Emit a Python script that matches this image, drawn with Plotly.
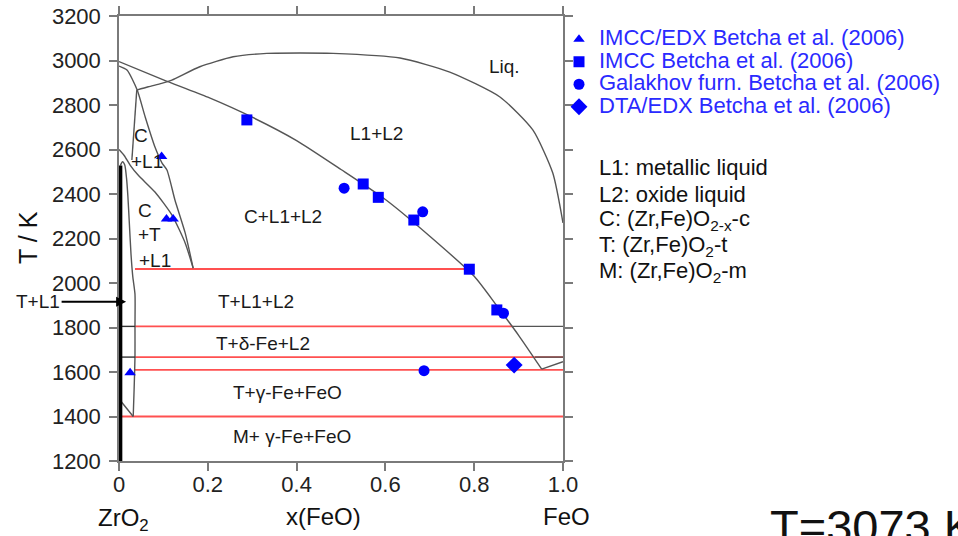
import plotly.graph_objects as go

# ---------------- data ----------------
x_ticks = [0, 0.2, 0.4, 0.6, 0.8, 1.0]
x_tick_labels = ["0", "0.2", "0.4", "0.6", "0.8", "1.0"]
y_ticks = [1200, 1400, 1600, 1800, 2000, 2200, 2400, 2600, 2800, 3000, 3200]

# L2 liquidus (C+L1+L2 / L1+L2 boundary)
liq_x = [0.0, 0.1, 0.2, 0.3, 0.4, 0.5, 0.6, 0.7, 0.8, 0.85, 0.9, 0.952]
liq_T = [2995, 2913, 2835, 2745, 2640, 2510, 2375, 2210, 2030, 1900, 1765, 1613]

# miscibility dome L1+L2 / Liq.
dome_x = [0.040, 0.066, 0.096, 0.119, 0.182, 0.257, 0.333, 0.408, 0.482, 0.633, 0.745, 0.858, 0.932, 0.977, 1.0]
dome_T = [2867, 2882, 2897, 2912, 2972, 3017, 3032, 3034, 3032, 3011, 2948, 2836, 2688, 2494, 2270]

# C liquidus curve (right boundary of C region)
cliq_x = [0.0, 0.018, 0.041, 0.059, 0.081, 0.097, 0.108, 0.126, 0.149, 0.167]
cliq_T = [2975, 2957, 2867, 2746, 2611, 2539, 2508, 2373, 2225, 2067]

# C left boundary (C / C+L1)
cleft_x = [0.040, 0.029]
cleft_T = [2867, 2553]

# C / C+T boundary
ct_x = [0.0, 0.012, 0.025, 0.043, 0.081, 0.119, 0.149, 0.167]
ct_T = [2600, 2572, 2530, 2485, 2409, 2306, 2180, 2067]

# T single-phase boundary
tb_x = [0.003, 0.008, 0.013, 0.017, 0.020, 0.023, 0.027, 0.031, 0.036, 0.036, 0.036, 0.034, 0.032]
tb_T = [2528, 2545, 2530, 2470, 2390, 2280, 2130, 2030, 1950, 1805, 1667, 1520, 1400]

# pure-ZrO2 side thick line
zr_x = [0.003, 0.003]
zr_T = [1200, 2528]

# T/M boundary
tm_x = [0.002, 0.032]
tm_T = [1474, 1400]

# short black isotherm pieces near ZrO2
lblack_T = [1805, 1667]
lblack_x0 = [0.003, 0.003]
lblack_x1 = [0.036, 0.036]

# black pieces near FeO
rblack_T = [1805, 1667]
rblack_x0 = [0.887, 0.937]
rblack_x1 = [1.0, 1.0]

# FeO liquidus
feo_x = [0.952, 1.0]
feo_T = [1613, 1646]

# red invariant lines
red_T = [2063, 1805, 1667, 1610, 1400]
red_x0 = [0.036, 0.036, 0.036, 0.036, 0.005]
red_x1 = [0.785, 0.887, 1.0, 1.0, 1.0]

# experimental points (Betcha et al. 2006)
imcc_edx_x = [0.096, 0.107, 0.122, 0.025]
imcc_edx_T = [2568, 2288, 2288, 1597]
imcc_x = [0.288, 0.550, 0.584, 0.664, 0.789, 0.851]
imcc_T = [2733, 2445, 2385, 2283, 2062, 1879]
galakhov_x = [0.507, 0.684, 0.866, 0.687]
galakhov_T = [2426, 2320, 1864, 1606]
dta_x = [0.890]
dta_T = [1631]

series_names = ["IMCC/EDX Betcha et al. (2006)", "IMCC Betcha et al. (2006)",
                "Galakhov furn. Betcha et al. (2006)", "DTA/EDX Betcha et al. (2006)"]

region_labels = ["Liq.", "L1+L2", "C+L1+L2", "C", "+L1", "C", "+T", "+L1",
                 "T+L1+L2", "T+δ-Fe+L2", "T+γ-Fe+FeO", "M+ γ-Fe+FeO"]
region_x = [0.869, 0.579, 0.369, 0.050, 0.062, 0.059, 0.068, 0.081, 0.308, 0.325, 0.379, 0.390]
region_T = [2975, 2674, 2297, 2665, 2544, 2328, 2216, 2103, 1915, 1730, 1506, 1308]

notes = ["L1: metallic liquid", "L2: oxide liquid", "C: (Zr,Fe)O<sub>2-x</sub>-c",
         "T: (Zr,Fe)O<sub>2</sub>-t", "M: (Zr,Fe)O<sub>2</sub>-m"]

# ---------------- figure ----------------
W, H = 958, 536
FONT = "Liberation Sans, Arial, sans-serif"
GRAY = "#555555"
FRAME = "#7a7a7a"
RED = "#ff5050"
BLUE = "#0000ff"

fig = go.Figure()

def seg_arrays(x0s, x1s, ys):
    xs, ts = [], []
    for a, b, t in zip(x0s, x1s, ys):
        xs += [a, b, None]
        ts += [t, t, None]
    return xs, ts

rx, rt = seg_arrays(red_x0, red_x1, red_T)
fig.add_trace(go.Scatter(x=rx, y=rt, mode="lines", line=dict(color=RED, width=1.8),
                         showlegend=False, hoverinfo="skip"))

for xs, ts in [(liq_x, liq_T), (dome_x, dome_T), (cliq_x, cliq_T), (cleft_x, cleft_T),
               (ct_x, ct_T), (tb_x, tb_T), (tm_x, tm_T), (feo_x, feo_T)]:
    fig.add_trace(go.Scatter(x=xs, y=ts, mode="lines", line=dict(color=GRAY, width=1.4, shape="spline", smoothing=0.6),
                             showlegend=False, hoverinfo="skip"))

lx, lt = seg_arrays(lblack_x0, lblack_x1, lblack_T)
fig.add_trace(go.Scatter(x=lx, y=lt, mode="lines", line=dict(color="#333333", width=1.4),
                         showlegend=False, hoverinfo="skip"))
bx, bt = seg_arrays(rblack_x0, rblack_x1, rblack_T)
fig.add_trace(go.Scatter(x=bx, y=bt, mode="lines", line=dict(color=GRAY, width=1.4),
                         showlegend=False, hoverinfo="skip"))
fig.add_trace(go.Scatter(x=zr_x, y=zr_T, mode="lines", line=dict(color="black", width=4),
                         showlegend=False, hoverinfo="skip"))

marker_specs = [("triangle-up", 10, imcc_edx_x, imcc_edx_T), ("square", 11, imcc_x, imcc_T),
                ("circle", 11, galakhov_x, galakhov_T), ("diamond", 13, dta_x, dta_T)]
for name, (sym, sz, xs, ts) in zip(series_names, marker_specs):
    fig.add_trace(go.Scatter(x=xs, y=ts, mode="markers", name='<span style="font-size:22px">' + name + '</span>',
                             marker=dict(symbol=sym, size=sz, color=BLUE, line=dict(width=0)),
                             cliponaxis=False))

annotations = []
for txt, x, t in zip(region_labels, region_x, region_T):
    annotations.append(dict(x=x, y=t, xref="x", yref="y", text=txt, showarrow=False,
                            xanchor="center", yanchor="middle",
                            font=dict(size=19, color="#1a1a1a", family=FONT)))

# T+L1 arrow
annotations.append(dict(x=0.016, y=1916, xref="x", yref="y", text="T+L1", showarrow=True,
                        ax=-88, ay=0, arrowhead=2, arrowsize=1, arrowwidth=2, arrowcolor="black",
                        standoff=0, font=dict(size=19, color="#1a1a1a", family=FONT)))

note_y = [167, 194, 220, 246, 272]
for txt, py in zip(notes, note_y):
    annotations.append(dict(x=597 / W, y=1 - py / H, xref="paper", yref="paper", text=txt,
                            xanchor="left", yanchor="middle", showarrow=False,
                            font=dict(size=22, color="#111111", family=FONT)))

annotations += [
    dict(x=28 / W, y=1 - 238 / H, xref="paper", yref="paper", text="T / K", textangle=-90,
         xanchor="center", yanchor="middle",
         showarrow=False, font=dict(size=25, color="#111111", family=FONT)),
    dict(x=323 / W, y=1 - 516 / H, xref="paper", yref="paper", text="x(FeO)",
         xanchor="center", yanchor="middle",
         showarrow=False, font=dict(size=24, color="#111111", family=FONT)),
    dict(x=124 / W, y=1 - 519 / H, xref="paper", yref="paper", text="ZrO<sub>2</sub>",
         xanchor="center", yanchor="middle",
         showarrow=False, font=dict(size=24, color="#111111", family=FONT)),
    dict(x=566 / W, y=1 - 516 / H, xref="paper", yref="paper", text="FeO",
         xanchor="center", yanchor="middle",
         showarrow=False, font=dict(size=24, color="#111111", family=FONT)),
    dict(x=768 / W, y=1 - 498 / H, xref="paper", yref="paper", text="T=3073 K",
         xanchor="left", yanchor="top", showarrow=False,
         font=dict(size=47, color="#111111", family=FONT)),
]

axis_common = dict(showgrid=False, zeroline=False, showline=True, linecolor=FRAME, linewidth=1.5,
                   mirror="ticks", ticks="outside", ticklen=8, tickwidth=1.5, tickcolor=FRAME,
                   tickfont=dict(size=22, color="#222222", family=FONT))

fig.update_layout(
    width=W, height=H,
    margin=dict(l=0, r=0, t=0, b=0),
    paper_bgcolor="white", plot_bgcolor="white",
    font=dict(family=FONT, color="#222222"),
    xaxis=dict(domain=[119 / W, 563 / W], range=[0, 1], tickvals=x_ticks, ticktext=x_tick_labels,
               automargin=False, ticklabelstandoff=-5, **axis_common),
    yaxis=dict(domain=[75 / H, 520 / H], range=[1200, 3200], tickvals=y_ticks,
               automargin=False, ticklabelstandoff=4, **axis_common),
    showlegend=True,
    legend=dict(x=559 / W, y=1 - 23 / H, xanchor="left", yanchor="top",
                bgcolor="rgba(0,0,0,0)", borderwidth=0, itemsizing="trace",
                font=dict(size=15, color="#2a2aff", family=FONT), tracegroupgap=0),
    annotations=annotations,
)

fig.write_html("out.html", config={"displayModeBar": False},
               post_script="document.body.style.margin='0';document.body.style.overflow='hidden';")
